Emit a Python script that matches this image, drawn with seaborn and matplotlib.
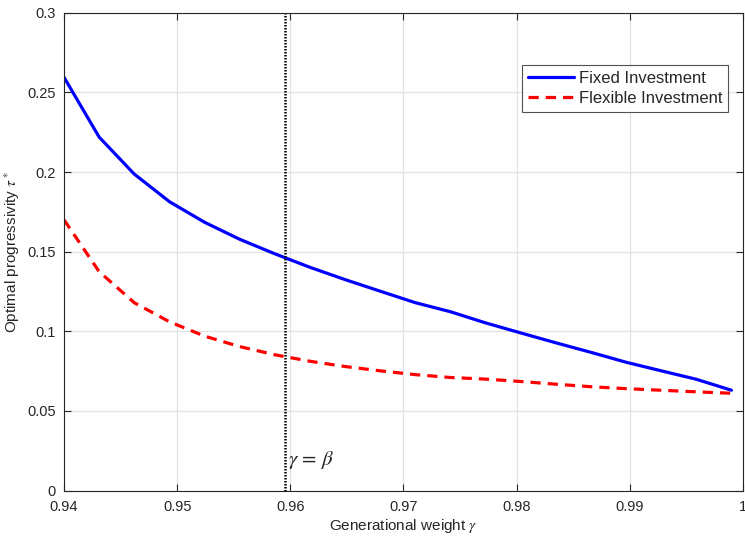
import numpy as np
import pandas as pd
import matplotlib
matplotlib.use('Agg')
import matplotlib.pyplot as plt
import seaborn as sns

# datos
gamma = [0.94, 0.9431, 0.9462, 0.94932, 0.95242, 0.95553, 0.95863, 0.96174, 0.96484, 0.96795,
         0.97105, 0.97416, 0.97726, 0.98037, 0.98347, 0.98658, 0.98968, 0.99279, 0.99589, 0.999]
fixed_inv = [0.2595, 0.222, 0.1988, 0.1814, 0.1685, 0.1578, 0.1487, 0.1402, 0.1325, 0.1252,
             0.1180, 0.1123, 0.1053, 0.0990, 0.0928, 0.0868, 0.0806, 0.0752, 0.0699, 0.0630]
flex_inv = [0.170, 0.1375, 0.118, 0.106, 0.097, 0.0904, 0.0853, 0.0812, 0.0779, 0.0752,
            0.0728, 0.0710, 0.0700, 0.0685, 0.0668, 0.0652, 0.0640, 0.0630, 0.0620, 0.0611]
series_names = ['Fixed Investment', 'Flexible Investment']
gamma_beta = 0.9595
x_ticks = [0.94, 0.95, 0.96, 0.97, 0.98, 0.99, 1.0]
y_ticks = [0, 0.05, 0.1, 0.15, 0.2, 0.25, 0.3]

df = pd.DataFrame({
    'gamma': gamma * 2,
    'tau': fixed_inv + flex_inv,
    'serie': [series_names[0]] * len(gamma) + [series_names[1]] * len(gamma),
})

sns.set_theme(style='ticks')
plt.rcParams['font.family'] = ['Liberation Sans', 'DejaVu Sans']
plt.rcParams['mathtext.fontset'] = 'stix'

fig = plt.figure(figsize=(7.45, 5.37), dpi=100)
ax = fig.add_axes([0.086, 0.0865, 0.911, 0.8895])

sns.lineplot(data=df, x='gamma', y='tau', hue='serie', style='serie',
             palette={series_names[0]: '#0000ff', series_names[1]: '#ff0000'},
             dashes={series_names[0]: '', series_names[1]: (3.2, 2.2)},
             linewidth=2.3, ax=ax, legend=True)

ax.axvline(gamma_beta, color='black', linestyle=(0, (0.6, 0.6)), linewidth=1.8)
ax.text(gamma_beta + 0.0003, 0.016, r'$\gamma$ = $\beta$', fontsize=15, color='#262626',
        family=['STIXGeneral', 'DejaVu Serif'])

ax.set_xlim(0.94, 1.0)
ax.set_ylim(0, 0.3)
ax.set_xticks(x_ticks)
ax.set_xticklabels(['%g' % v for v in x_ticks])
ax.set_yticks(y_ticks)
ax.set_yticklabels(['%g' % v for v in y_ticks])
ax.grid(True, color='#e3e3e3', linewidth=0.9)
ax.tick_params(direction='in', top=True, right=True, labelsize=10.5, colors='#262626',
               length=5, width=0.8)
ax.tick_params(axis='x', pad=7)
ax.tick_params(axis='y', pad=6)
for s in ax.spines.values():
    s.set_color('#262626')
    s.set_linewidth(0.8)

ax.set_xlabel(r'Generational weight $\gamma$', fontsize=11, color='#262626', labelpad=2)
ax.set_ylabel(r'Optimal progressivity $\tau^*$', fontsize=11, color='#262626', labelpad=4)

leg = ax.legend(loc='upper right', bbox_to_anchor=(0.978, 0.891), borderaxespad=0,
                fontsize=12, frameon=True, fancybox=False, handlelength=2.8,
                handletextpad=0.25, borderpad=0.35, labelspacing=0.3)
leg.get_frame().set_edgecolor('#262626')
leg.get_frame().set_linewidth(0.8)

plt.savefig('out.png', dpi=100)
